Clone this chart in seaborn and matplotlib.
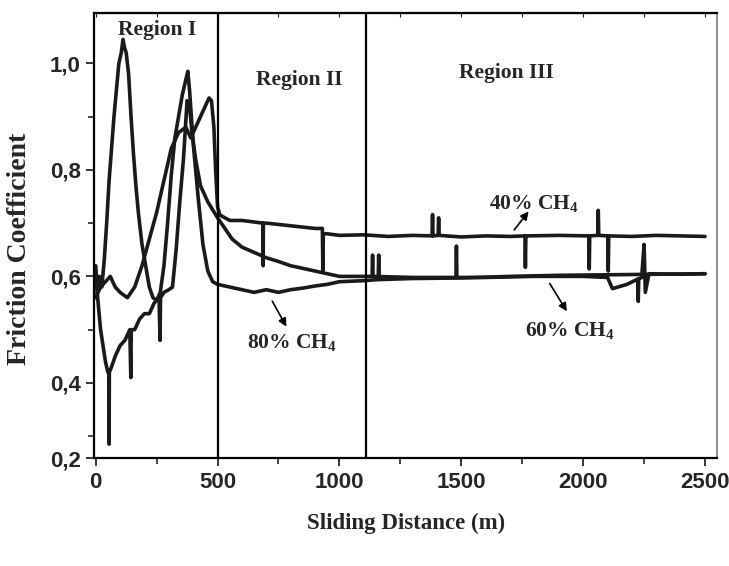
import pandas as pd
import seaborn as sns
import matplotlib.pyplot as plt

sns.set_style('ticks')
plt.rcParams['font.family'] = ['Liberation Serif', 'DejaVu Serif']
plt.rcParams['mathtext.fontset'] = 'custom'
plt.rcParams['mathtext.rm'] = 'Liberation Serif:bold'
plt.rcParams['mathtext.bf'] = 'Liberation Serif:bold'

# values (distance in m, friction coefficient)
dist_40 = [0, 20, 40, 60, 80, 100, 130, 160, 190, 220, 250, 280, 310, 340, 370, 390,
           410, 440, 465, 475, 485, 492, 500, 510, 550, 600, 686, 687, 688, 700, 800,
           900, 930, 932, 934, 950, 1000, 1100, 1200, 1300, 1380, 1382, 1384, 1405,
           1407, 1409, 1500, 1600, 1700, 1761, 1763, 1765, 1900, 2023, 2025, 2027,
           2060, 2062, 2064, 2101, 2103, 2105, 2200, 2300, 2400, 2500]
cof_40 = [0.56, 0.58, 0.59, 0.60, 0.58, 0.57, 0.56, 0.58, 0.62, 0.67, 0.72, 0.78, 0.84,
          0.87, 0.88, 0.86, 0.88, 0.91, 0.935, 0.93, 0.88, 0.80, 0.73, 0.715, 0.705,
          0.705, 0.70, 0.62, 0.70, 0.70, 0.695, 0.69, 0.69, 0.61, 0.68, 0.68, 0.677,
          0.678, 0.675, 0.677, 0.676, 0.716, 0.676, 0.677, 0.71, 0.677, 0.674, 0.676,
          0.675, 0.676, 0.617, 0.676, 0.677, 0.676, 0.614, 0.676, 0.677, 0.724, 0.677,
          0.676, 0.61, 0.676, 0.675, 0.677, 0.676, 0.675]

dist_60 = [0, 10, 20, 30, 40, 50, 54, 55, 56, 65, 80, 100, 120, 140, 144, 146, 160,
           180, 200, 220, 240, 260, 264, 266, 280, 300, 315, 330, 345, 360, 375, 385,
           395, 410, 430, 460, 500, 530, 560, 600, 650, 700, 750, 800, 850, 900, 950,
           1000, 1100, 1134, 1136, 1138, 1300, 1478, 1480, 1482, 1600, 1800, 2000,
           2100, 2120, 2180, 2224, 2226, 2228, 2240, 2250, 2255, 2270, 2400, 2500]
cof_60 = [0.60, 0.55, 0.50, 0.47, 0.44, 0.42, 0.42, 0.285, 0.42, 0.43, 0.45, 0.47,
          0.48, 0.50, 0.41, 0.50, 0.50, 0.52, 0.53, 0.53, 0.55, 0.56, 0.48, 0.56,
          0.57, 0.575, 0.58, 0.65, 0.74, 0.82, 0.93, 0.92, 0.87, 0.82, 0.77, 0.74,
          0.71, 0.69, 0.67, 0.655, 0.645, 0.635, 0.628, 0.62, 0.615, 0.61, 0.605,
          0.60, 0.60, 0.60, 0.64, 0.60, 0.598, 0.598, 0.657, 0.598, 0.598, 0.60,
          0.60, 0.598, 0.577, 0.585, 0.595, 0.553, 0.595, 0.598, 0.66, 0.57, 0.605,
          0.604, 0.605]

dist_80 = [0, 8, 15, 25, 35, 45, 55, 65, 75, 85, 95, 105, 112, 118, 125, 135, 145,
           155, 165, 175, 190, 205, 220, 235, 250, 265, 280, 295, 310, 325, 340, 355,
           370, 378, 385, 400, 420, 440, 460, 480, 500, 550, 600, 650, 700, 750, 800,
           850, 900, 950, 1000, 1100, 1159, 1161, 1163, 1300, 1500, 1700, 1900, 2100,
           2300, 2500]
cof_80 = [0.62, 0.57, 0.60, 0.58, 0.63, 0.70, 0.78, 0.84, 0.90, 0.95, 1.00, 1.02,
          1.045, 1.03, 1.02, 0.98, 0.90, 0.83, 0.77, 0.72, 0.66, 0.62, 0.58, 0.56,
          0.555, 0.57, 0.62, 0.70, 0.79, 0.86, 0.90, 0.94, 0.97, 0.985, 0.95, 0.85,
          0.75, 0.66, 0.61, 0.59, 0.585, 0.58, 0.575, 0.57, 0.575, 0.57, 0.575, 0.578,
          0.582, 0.585, 0.59, 0.592, 0.594, 0.64, 0.594, 0.596, 0.597, 0.60, 0.602,
          0.603, 0.604, 0.605]

region_bounds = [500, 1110]

# the lowest tick of the original axis sits higher than a linear 0.2 would
y_bottom = 0.259
y_ticks = [y_bottom, 0.4, 0.6, 0.8, 1.0]
y_tick_labels = ['0,2', '0,4', '0,6', '0,8', '1,0']

frames = []
for name, d, c in [('40% CH4', dist_40, cof_40), ('60% CH4', dist_60, cof_60),
                   ('80% CH4', dist_80, cof_80)]:
    frames.append(pd.DataFrame({'dist': d, 'cof': c, 'gas': name}))
df = pd.concat(frames, ignore_index=True)

fig = plt.figure(figsize=(7.29, 5.66), dpi=100)
ax = fig.add_axes([0.1296, 0.1908, 0.8539, 0.7867])

sns.lineplot(data=df, x='dist', y='cof', units='gas', estimator=None, sort=False,
             color='#1a1a1a', lw=2.6, ax=ax, legend=False)

for b in region_bounds:
    ax.axvline(b, color='black', lw=1.6)

ax.set_xlim(-5, 2549)
ax.set_ylim(y_bottom, 1.095)
ax.set_xticks([0, 500, 1000, 1500, 2000, 2500])
ax.set_xticks([250, 750, 1250, 1750, 2250], minor=True)
ax.set_yticks(y_ticks, labels=y_tick_labels)
ax.set_yticks([0.3, 0.5, 0.7, 0.9], minor=True)
ax.tick_params(which='major', length=6, width=1.3, pad=4)
ax.tick_params(which='minor', length=4, width=1.2)
for lab in ax.get_xticklabels() + ax.get_yticklabels():
    lab.set_family(['Liberation Sans Narrow', 'Liberation Sans'])
    lab.set_fontweight('bold')
    lab.set_fontsize(16)

for side in ['left', 'bottom', 'top']:
    ax.spines[side].set_linewidth(1.6)
    ax.spines[side].set_color('black')
ax.spines['right'].set_linewidth(1.2)
ax.spines['right'].set_color('#777777')

top = ax.secondary_xaxis('top')
top.set_xticks([0, 250, 500, 750, 1000, 1250, 1500, 1750, 2000, 2250, 2500])
top.tick_params(direction='in', length=3, labeltop=False)

ax.set_xlabel('Sliding Distance (m)', fontsize=16.5, fontweight='bold', labelpad=14)
ax.set_ylabel('Friction Coefficient', fontsize=20, fontweight='bold')
ax.yaxis.set_label_coords(-0.101, 0.47)

ax.text(252, 1.053, 'Region I', fontsize=15.5, fontweight='bold', ha='center')
ax.text(834, 0.959, 'Region II', fontsize=15.5, fontweight='bold', ha='center')
ax.text(1687, 0.972, 'Region III', fontsize=15.5, fontweight='bold', ha='center')

ax.text(1615, 0.726, r'40% CH$_\mathbf{4}$', fontsize=15.5, fontweight='bold')
ax.text(1763, 0.488, r'60% CH$_\mathbf{4}$', fontsize=15.5, fontweight='bold')
ax.text(620, 0.464, r'80% CH$_\mathbf{4}$', fontsize=15.5, fontweight='bold')

arrow = dict(arrowstyle='-|>', color='black', lw=1.2, mutation_scale=12)
ax.annotate('', xy=(1783, 0.726), xytext=(1710, 0.683), arrowprops=arrow)
ax.annotate('', xy=(1939, 0.530), xytext=(1857, 0.591), arrowprops=arrow)
ax.annotate('', xy=(788, 0.501), xytext=(719, 0.558), arrowprops=arrow)

fig.savefig('out.png', dpi=100)
